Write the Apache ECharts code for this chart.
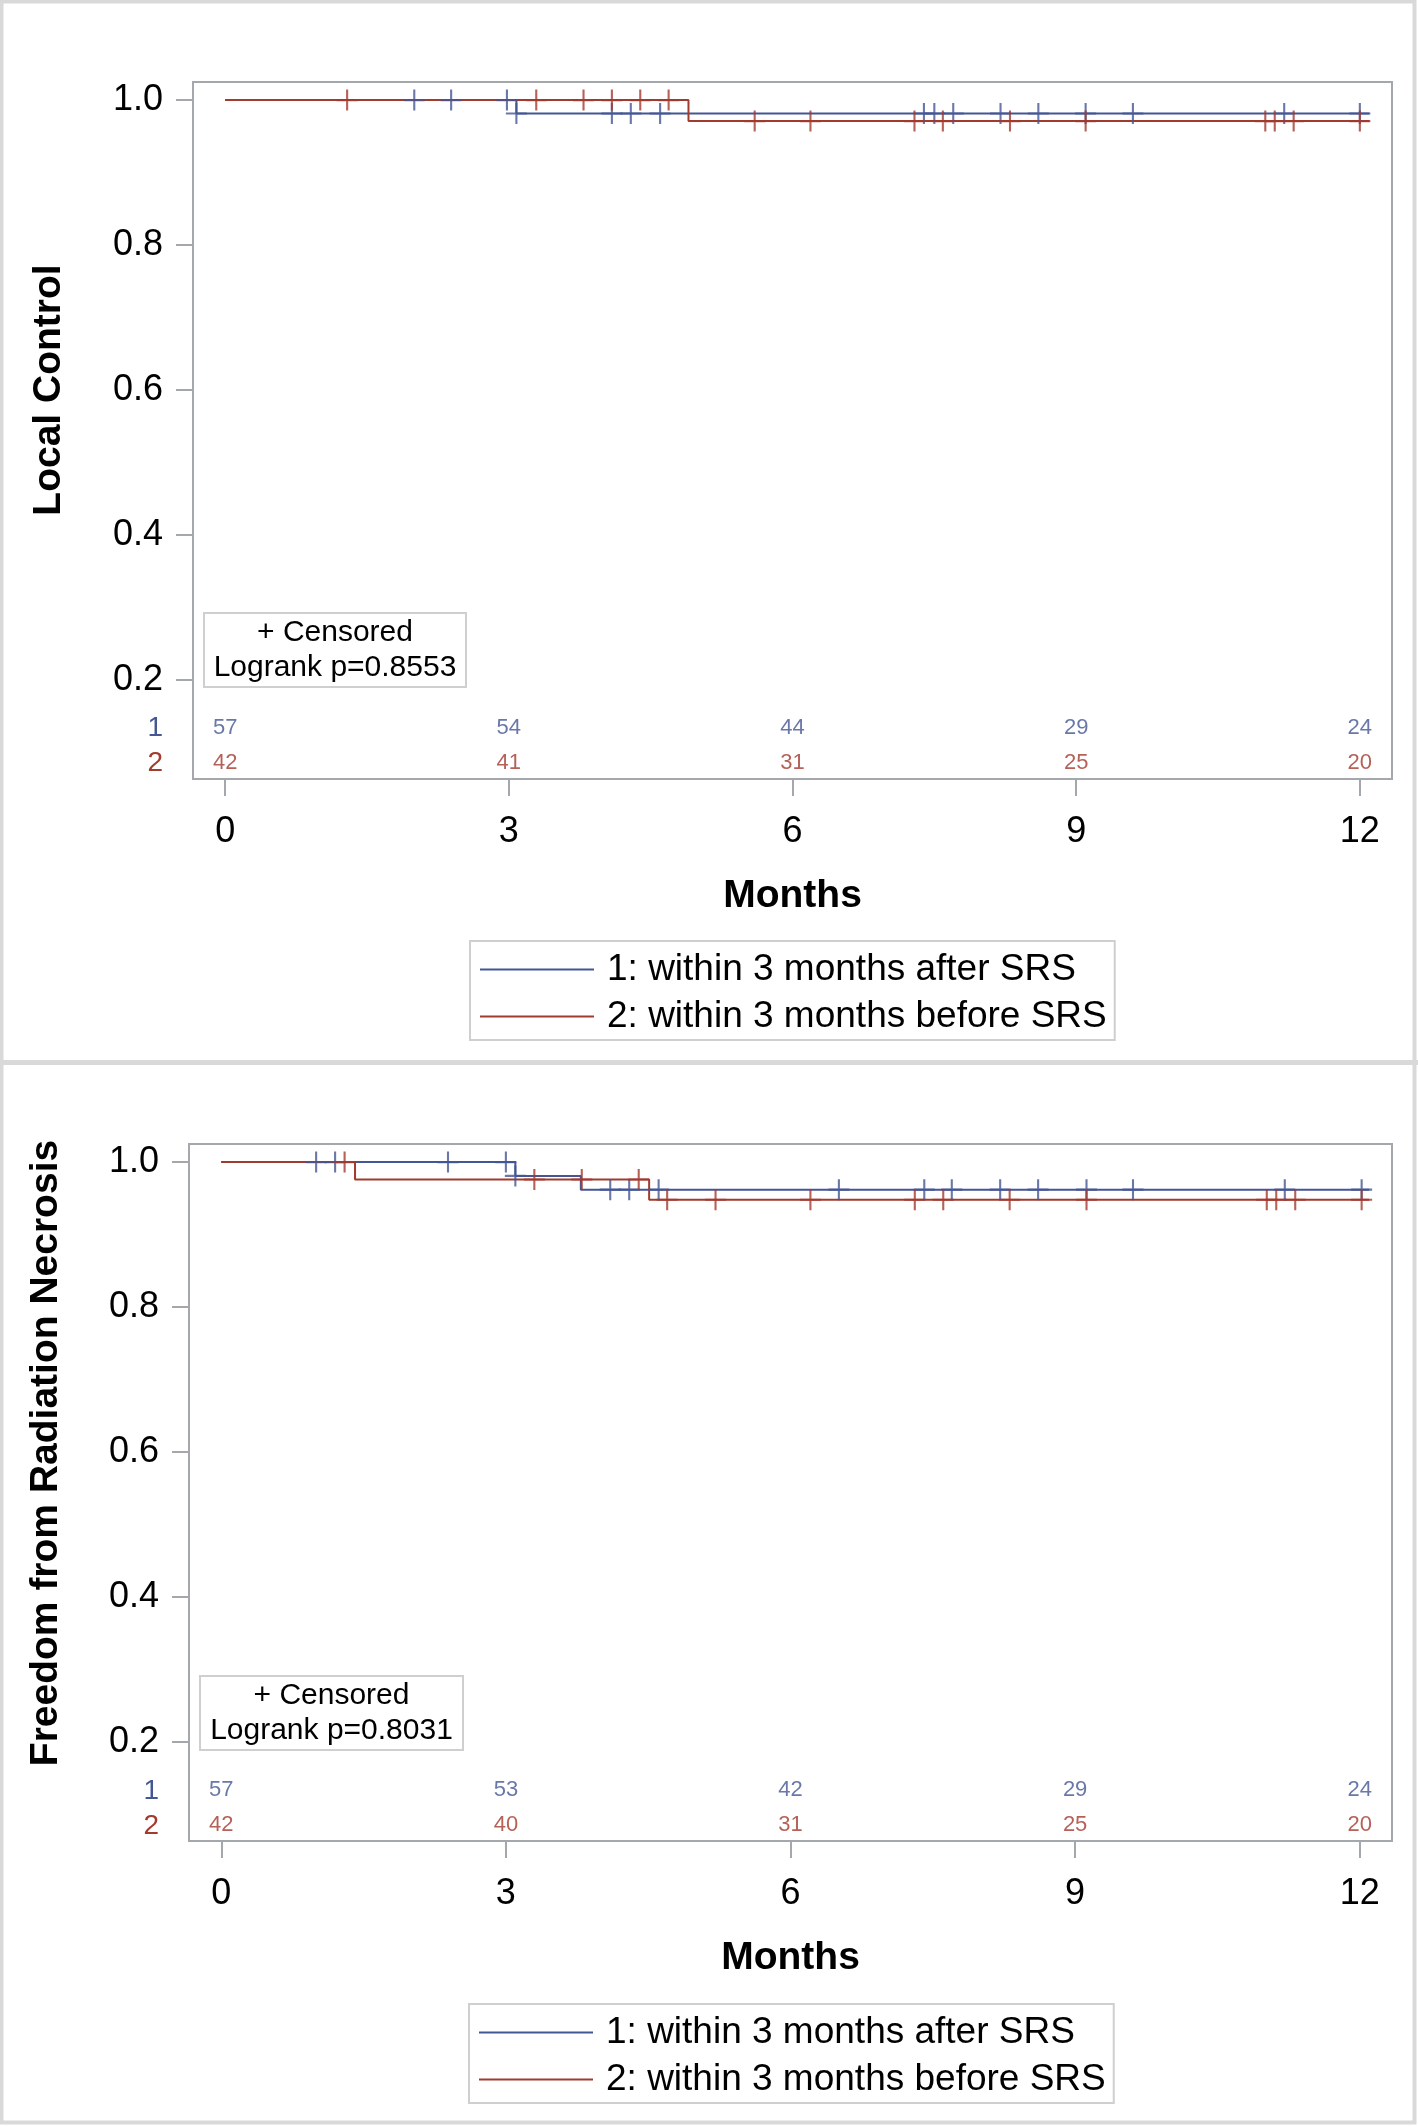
<!DOCTYPE html>
<html>
<head>
<meta charset="utf-8">
<script src="https://cdn.jsdelivr.net/npm/echarts@6.0.0/dist/echarts.min.js"></script>
<style>
  html, body { margin: 0; padding: 0; background: #fff; }
  #km { width: 1418px; height: 2126px; }
</style>
</head>
<body>
<div id="km"></div>
<script>
// Kaplan-Meier curves, two panels: local control / freedom from radiation necrosis

var groupNames = ['1: within 3 months after SRS', '2: within 3 months before SRS'];
var monthTicks = [0, 3, 6, 9, 12];
var survTicks = [0.2, 0.4, 0.6, 0.8, 1.0];

// panel 1 - local control
var lcBlueTimes = [0, 3.08, 12.1];
var lcBlueSurv = [1, 0.9815, 0.9815];
var lcBlueCens = [2.0, 2.39, 2.98, 3.08, 4.09, 4.29, 4.60, 7.39, 7.50, 7.70, 8.20, 8.60, 9.10, 9.60, 11.20, 12.0];
var lcRedTimes = [0, 4.90, 12.1];
var lcRedSurv = [1, 0.971, 0.971];
var lcRedCens = [1.29, 3.29, 3.79, 4.09, 4.39, 4.69, 5.60, 6.19, 7.29, 7.59, 8.30, 9.10, 11.00, 11.10, 11.30, 12.0];
var lcBlueRisk = [57, 54, 44, 29, 24];
var lcRedRisk = [42, 41, 31, 25, 20];
var lcPvalue = 'Logrank p=0.8553';

// panel 2 - freedom from radiation necrosis
var rnBlueTimes = [0, 3.10, 3.79, 12.1];
var rnBlueSurv = [1, 0.981, 0.962, 0.962];
var rnBlueCens = [1.00, 1.20, 2.39, 3.00, 3.10, 4.10, 4.30, 4.61, 6.51, 7.41, 7.70, 8.21, 8.61, 9.12, 9.61, 11.21, 12.02];
var rnRedTimes = [0, 1.41, 4.51, 12.1];
var rnRedSurv = [1, 0.976, 0.948, 0.948];
var rnRedCens = [1.30, 3.30, 3.80, 4.40, 4.70, 5.21, 6.21, 7.31, 7.61, 8.31, 9.12, 11.02, 11.12, 11.32, 12.02];
var rnBlueRisk = [57, 53, 42, 29, 24];
var rnRedRisk = [42, 40, 31, 25, 20];
var rnPvalue = 'Logrank p=0.8031';

var BLUE = '#445694';
var RED = '#A23A2E';
var FRAME = '#a4a7ab';
var FONT = '"Liberation Sans", Arial, sans-serif';
var riskRowY = [0.134, 0.085];   // value-space rows for the at-risk numbers
var plusPath = 'path://M9,0H11V9H20V11H11V20H9V11H0V9H9Z';

function zip(xs, ys) {
	return xs.map(function (x, i) { return [x, ys[i]]; });
}
function survAt(times, surv, t) {
	var s = surv[0];
	for (var i = 0; i < times.length; i++) { if (times[i] <= t) s = surv[i]; }
	return s;
}

function panelSeries(idx, bT, bS, bC, rT, rS, rC, bRisk, rRisk) {
	var out = [];
	[[bT, bS, bC, BLUE, groupNames[0], 2], [rT, rS, rC, RED, groupNames[1], 3]].forEach(function (g) {
		out.push({
			name: g[4], type: 'line', step: 'end', xAxisIndex: idx, yAxisIndex: idx,
			data: zip(g[0], g[1]), showSymbol: false, symbol: 'none', color: g[3],
			lineStyle: { width: 2, color: g[3] }, z: g[5]
		});
		out.push({
			name: g[4] + ' censored', type: 'scatter', xAxisIndex: idx, yAxisIndex: idx,
			data: g[2].map(function (t) { return [t, survAt(g[0], g[1], t)]; }),
			symbol: plusPath, symbolSize: 21, itemStyle: { color: g[3] }, z: g[5] + 2
		});
	});
	[[bRisk, BLUE, riskRowY[0]], [rRisk, RED, riskRowY[1]]].forEach(function (r) {
		out.push({
			type: 'scatter', xAxisIndex: idx, yAxisIndex: idx, silent: true,
			symbolSize: 0, itemStyle: { color: 'rgba(0,0,0,0)' },
			data: monthTicks.map(function (m, i) { return { value: [m, r[2]], n: r[0][i] }; }),
			label: {
				show: true, position: 'inside', color: r[1], fontSize: 22, fontFamily: FONT,
				formatter: function (p) { return String(p.data.n); }
			}
		});
	});
	return out;
}

function xAxisCfg(idx) {
	return {
		type: 'value', gridIndex: idx, min: -0.34, max: 12.34,
		name: 'Months', nameLocation: 'middle', nameGap: 98,
		nameTextStyle: { fontSize: 39, fontWeight: 'bold', color: '#000', fontFamily: FONT },
		axisLine: { show: false, onZero: false },
		axisTick: { show: true, length: 17, lineStyle: { color: FRAME, width: 2 }, customValues: monthTicks },
		axisLabel: { fontSize: 36, color: '#000', fontFamily: FONT, margin: 35, customValues: monthTicks },
		splitLine: { show: false }
	};
}
function yAxisCfg(idx) {
	return {
		type: 'value', gridIndex: idx, min: 0.063, max: 1.025,
		axisLine: { show: false, onZero: false },
		axisTick: { show: true, length: 17, lineStyle: { color: FRAME, width: 2 }, customValues: survTicks },
		axisLabel: {
			fontSize: 36, color: '#000', fontFamily: FONT, margin: 30, customValues: survTicks,
			formatter: function (v) { return v.toFixed(1); }
		},
		splitLine: { show: false }
	};
}
function legendCfg(top, left) {
	return {
		top: top, left: left, orient: 'vertical', data: groupNames, selectedMode: false,
		icon: 'rect', itemWidth: 114, itemHeight: 2, itemGap: 10,
		padding: [10, 8, 5, 10], borderColor: '#cfcfcf', borderWidth: 2,
		textStyle: { fontSize: 37, color: '#000', fontFamily: FONT, padding: [0, 0, 0, 8] }
	};
}

function panelGraphics(dy, yTitle, pText, titleX, boxX, boxW, rowLabelX) {
	var g = [];
	g.push({
		type: 'text', x: titleX, y: 390 + dy, rotation: Math.PI / 2,
		style: { text: yTitle, font: 'bold 39px ' + FONT, fill: '#000', align: 'center', verticalAlign: 'middle' }
	});
	g.push({
		type: 'rect', shape: { x: boxX, y: 613 + dy, width: boxW, height: 74 },
		style: { fill: '#fff', stroke: '#cfcfcf', lineWidth: 2 }, z: 10
	});
	g.push({
		type: 'text', x: boxX + boxW / 2, y: 633 + dy, z: 11,
		style: { text: '+ Censored', font: '30px ' + FONT, fill: '#000', align: 'center', verticalAlign: 'middle' }
	});
	g.push({
		type: 'text', x: boxX + boxW / 2, y: 668 + dy, z: 11,
		style: { text: pText, font: '30px ' + FONT, fill: '#000', align: 'center', verticalAlign: 'middle' }
	});
	g.push({
		type: 'text', x: rowLabelX, y: 728 + dy,
		style: { text: '1', font: '28px ' + FONT, fill: BLUE, align: 'right', verticalAlign: 'middle' }
	});
	g.push({
		type: 'text', x: rowLabelX, y: 763 + dy,
		style: { text: '2', font: '28px ' + FONT, fill: RED, align: 'right', verticalAlign: 'middle' }
	});
	return g;
}

var chart = echarts.init(document.getElementById('km'));

var graphics = [
	// outer panel frames
	{ type: 'rect', shape: { x: 1.5, y: 1.5, width: 1413, height: 2121 }, style: { fill: 'none', stroke: '#d9d9d9', lineWidth: 4 }, silent: true },
	{ type: 'rect', shape: { x: 0, y: 1060, width: 1418, height: 5 }, style: { fill: '#d9d9d9' }, silent: true }
].concat(
	panelGraphics(0, 'Local Control', lcPvalue, 49, 204, 262, 163),
	panelGraphics(1063, 'Freedom from Radiation Necrosis', rnPvalue, 46, 200, 263, 159)
);

var option = {
	animation: false,
	backgroundColor: '#fff',
	grid: [
		{ left: 193, top: 82, width: 1199, height: 697, show: true, borderColor: FRAME, borderWidth: 2 },
		{ left: 189, top: 1144, width: 1203, height: 697, show: true, borderColor: FRAME, borderWidth: 2 }
	],
	xAxis: [xAxisCfg(0), xAxisCfg(1)],
	yAxis: [yAxisCfg(0), yAxisCfg(1)],
	legend: [legendCfg(941, 470), legendCfg(2004, 469)],
	graphic: graphics,
	series: [].concat(
		panelSeries(0, lcBlueTimes, lcBlueSurv, lcBlueCens, lcRedTimes, lcRedSurv, lcRedCens, lcBlueRisk, lcRedRisk),
		panelSeries(1, rnBlueTimes, rnBlueSurv, rnBlueCens, rnRedTimes, rnRedSurv, rnRedCens, rnBlueRisk, rnRedRisk)
	)
};

chart.setOption(option);
</script>
</body>
</html>
